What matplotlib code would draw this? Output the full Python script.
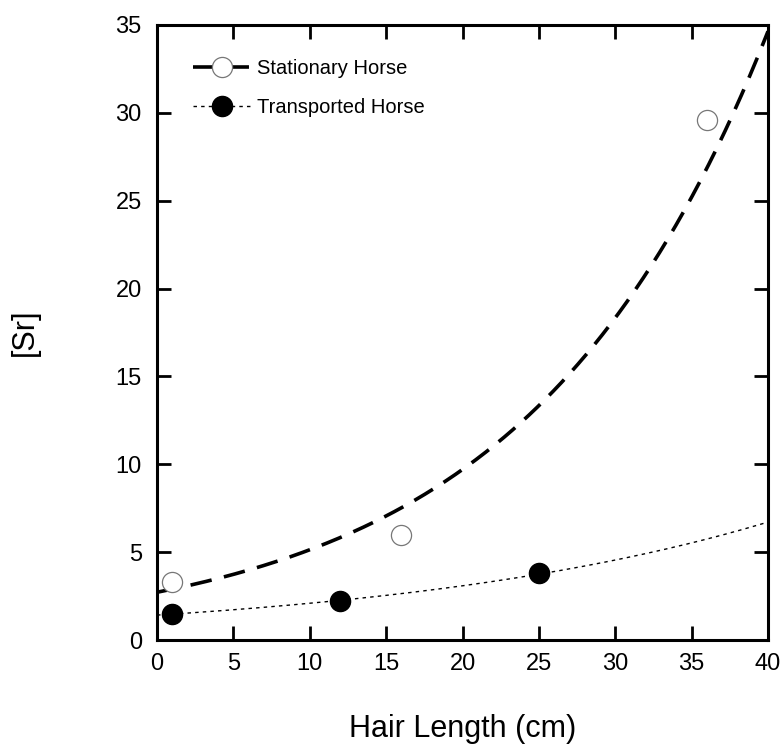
import numpy as np
import matplotlib.pyplot as plt

plt.rcParams['font.family'] = ['Liberation Sans', 'DejaVu Sans']

# hair segment position (cm) and Sr concentration
stat_x = [1, 16, 36]
stat_y = [3.3, 6.0, 29.6]
trans_x = [1, 12, 25]
trans_y = [1.5, 2.2, 3.8]


def exp_fit(x, y):
    # y = a * exp(b x), fitted on log scale
    b, ln_a = np.polyfit(x, np.log(y), 1)
    return np.exp(ln_a), b


xs = np.linspace(0, 40, 300)
a1, b1 = exp_fit(stat_x, stat_y)
a2, b2 = exp_fit(trans_x, trans_y)

fig = plt.figure(figsize=(7.84, 7.46), dpi=100)
ax = fig.add_axes([0.2003, 0.142, 0.7793, 0.8245])

ax.plot(xs, a1 * np.exp(b1 * xs), color='black', lw=2.6, ls=(0, (6, 3.5)), zorder=2)
ax.plot(xs, a2 * np.exp(b2 * xs), color='black', lw=1.0, ls=(0, (2.5, 3)), zorder=2)
ax.plot(stat_x, stat_y, 'o', ms=14.5, mfc='white', mec='#777777', mew=0.9, zorder=3)
ax.plot(trans_x, trans_y, 'o', ms=14.5, mfc='black', mec='black', zorder=3)

# legend handles: line + marker
h1, = ax.plot([], [], color='black', lw=2.6, ls=(0, (6, 3.5)), marker='o', ms=14.5,
              mfc='white', mec='#777777', mew=0.9)
h2, = ax.plot([], [], color='black', lw=1.0, ls=(0, (2.5, 3)), marker='o', ms=14.5,
              mfc='black', mec='black')
ax.legend([h1, h2], ['Stationary Horse', 'Transported Horse'], loc='upper left',
          bbox_to_anchor=(0.029, 0.974), frameon=False, fontsize=14.5,
          handlelength=2.9, handletextpad=0.3, labelspacing=1.0)

ax.set_xlim(0, 40)
ax.set_ylim(0, 35)
ax.set_xticks(range(0, 41, 5))
ax.set_yticks(range(0, 36, 5))
ax.tick_params(direction='in', length=10, width=2, labelsize=17,
               top=True, right=True)
ax.tick_params(axis='x', pad=9)
ax.tick_params(axis='y', pad=11)
for s in ax.spines.values():
    s.set_linewidth(2.2)

ax.set_xlabel('Hair Length (cm)', fontsize=22, va='center')
ax.xaxis.set_label_coords(0.5, -0.144)
ax.set_ylabel('[Sr]', fontsize=22, va='center')
ax.yaxis.set_label_coords(-0.216, 0.50)

fig.savefig('out.png', dpi=100)
